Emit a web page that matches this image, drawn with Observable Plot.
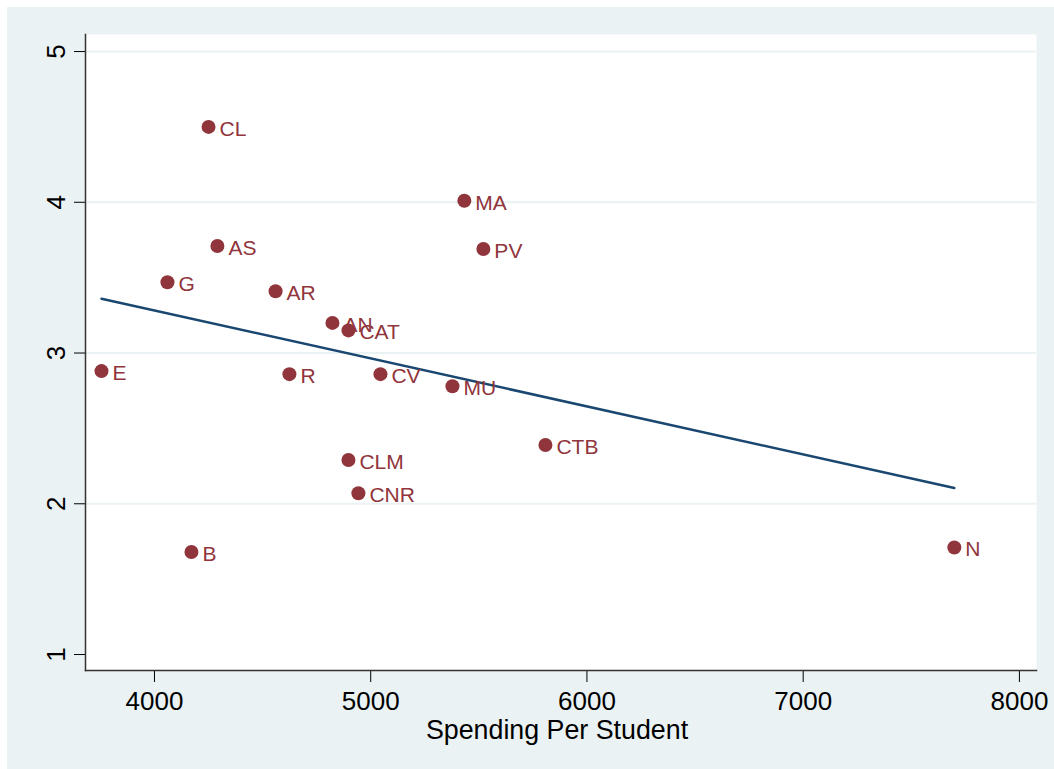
<!DOCTYPE html>
<html>
<head>
<meta charset="utf-8">
<script src="https://cdn.jsdelivr.net/npm/d3@7"></script>
<script src="https://cdn.jsdelivr.net/npm/@observablehq/plot@0.6"></script>
<style>
  html, body { margin: 0; padding: 0; background: #ffffff; }
  #chart { position: absolute; left: 7px; top: 7px; }
</style>
</head>
<body>
<div id="chart"></div>
<script>
const regions = ["CL","MA","AS","PV","G","AR","AN","CAT","E","R","CV","MU","CTB","CLM","CNR","B","N"];
const spending = [4250,5433,4291,5521,4060,4560,4823,4897,3755,4624,5045,5378,5808,4897,4943,4171,7699];
const outcome = [4.50,4.01,3.71,3.69,3.47,3.41,3.20,3.15,2.88,2.86,2.86,2.78,2.39,2.29,2.07,1.68,1.71];
const xTicks = [4000,5000,6000,7000,8000];
const yTicks = [1,2,3,4,5];
const gridValues = [2,3,4,5];
const xLabel = "Spending Per Student";

const data = regions.map((r, i) => ({region: r, x: spending[i], y: outcome[i]}));

const maroon = "#90353B";
const navy = "#1A476F";
const bg = "#EAF2F3";

const chart = Plot.plot({
  width: 1047,
  height: 762,
  marginLeft: 78,
  marginRight: 18,
  marginTop: 27,
  marginBottom: 99,
  style: {background: bg, fontFamily: "'Liberation Sans', Arial, Helvetica, sans-serif", fontSize: "26px", color: "#000"},
  x: {domain: [3681, 8079]},
  y: {domain: [0.894, 5.113]},
  marks: [
    Plot.frame({fill: "white", stroke: null}),
    Plot.ruleY(gridValues, {stroke: bg, strokeWidth: 2}),
    Plot.axisX({ticks: xTicks, tickSize: 12, tickPadding: 9, tickFormat: d => String(d), label: null, fontSize: 26, stroke: "#000", strokeWidth: 1}),
    Plot.text([xLabel], {frameAnchor: "bottom", text: d => d, dy: 68, dx: -4, fontSize: 26.8, fill: "#000", lineAnchor: "bottom"}),
    Plot.axisY({ticks: yTicks, tickSize: 11, tickPadding: 10, tickRotate: -90, tickFormat: d => String(d), label: null, fontSize: 26, stroke: "#000", strokeWidth: 1}),
    Plot.frame({anchor: "left", stroke: "#333", strokeWidth: 1.5}),
    Plot.frame({anchor: "bottom", stroke: "#333", strokeWidth: 1.5}),
    Plot.linearRegressionY(data, {x: "x", y: "y", ci: 0, stroke: navy, strokeWidth: 2.5}),
    Plot.dot(data, {x: "x", y: "y", r: 7, fill: maroon, stroke: null}),
    Plot.text(data, {x: "x", y: "y", text: "region", fill: maroon, textAnchor: "start", dx: 11, dy: 2, fontSize: 21})
  ]
});
document.getElementById("chart").appendChild(chart);
</script>
</body>
</html>
